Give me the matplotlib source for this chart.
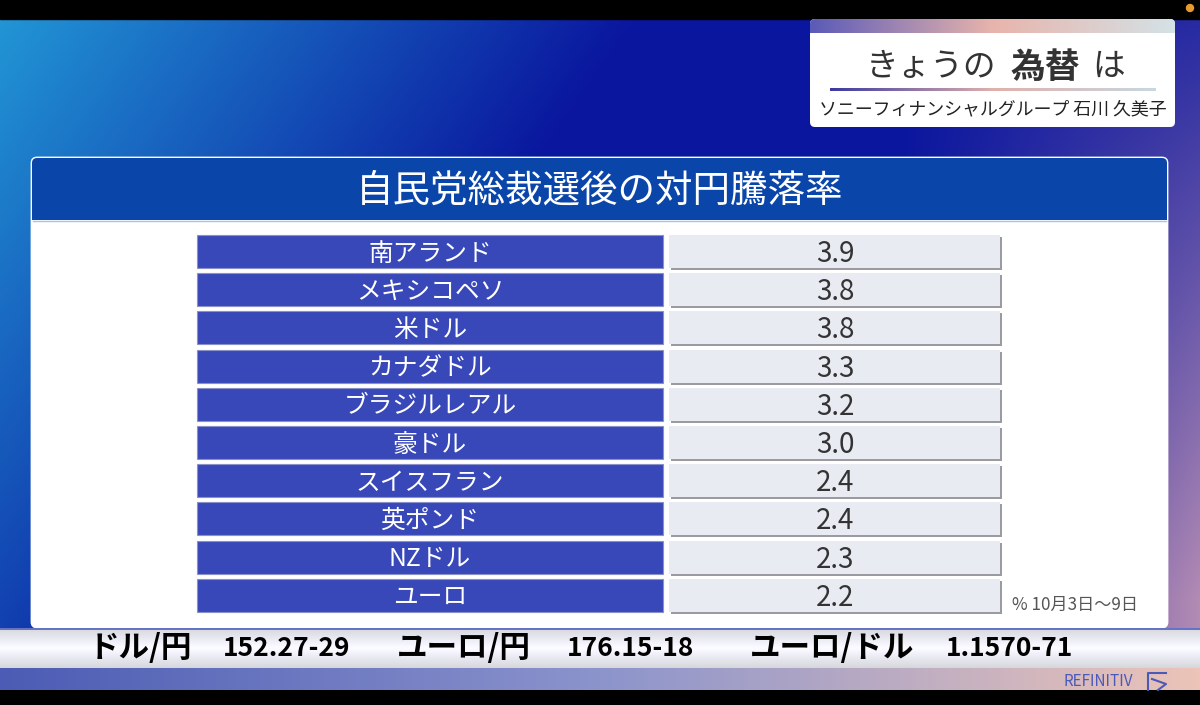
import numpy as np
import matplotlib.pyplot as plt
from matplotlib.patches import Rectangle, FancyBboxPatch, Circle

plt.rcParams['font.family'] = ['Noto Sans CJK JP', 'DejaVu Sans']

# data
currencies = ['南アランド', 'メキシコペソ', '米ドル', 'カナダドル', 'ブラジルレアル',
              '豪ドル', 'スイスフラン', '英ポンド', 'NZドル', 'ユーロ']
change_pct = [3.9, 3.8, 3.8, 3.3, 3.2, 3.0, 2.4, 2.4, 2.3, 2.2]
ticker_pairs = ['ドル/円', 'ユーロ/円', 'ユーロ/ドル']
ticker_quotes = ['152.27-29', '176.15-18', '1.1570-71']

title = '自民党総裁選後の対円騰落率'
note = '% 10月3日～9日'

W, H = 1200, 705
fig = plt.figure(figsize=(12, 7.05), dpi=100)
ax = fig.add_axes([0, 0, 1, 1])
ax.set_xlim(0, W)
ax.set_ylim(H, 0)
ax.axis('off')


def hexrgb(h):
    h = h.lstrip('#')
    return np.array([int(h[i:i + 2], 16) / 255 for i in (0, 2, 4)])


# background gradient
yy, xx = np.mgrid[0:H, 0:W]
s = np.clip((xx + 0.7 * yy) / 650.0, 0, 1)[..., None]
bg = (1 - s) * hexrgb('#2298d6') + s * hexrgb('#0a169e')
w = (np.clip((xx - 900) / 300.0, 0, 1) * np.clip((yy + 100) / 700.0, 0, 1))[..., None]
bg = (1 - w) * bg + w * hexrgb('#b48cb4')
ax.imshow(bg, extent=(0, W, H, 0), aspect='auto', zorder=0)

# black bars top / bottom
ax.add_patch(Rectangle((0, 0), W, 19, color='black', zorder=1))
ax.add_patch(Rectangle((0, 690), W, 15, color='black', zorder=1))
ax.add_patch(Circle((1190, 8), 3.5, color='#e89a30', zorder=2))

# title box top right
box = FancyBboxPatch((810, 19), 365, 108, boxstyle='round,pad=0,rounding_size=5',
                     fc='white', ec='none', zorder=2)
ax.add_patch(box)
t = np.linspace(0, 1, 300)
strip_cols = [hexrgb('#5a5ab8'), hexrgb('#e8b4ac'), hexrgb('#d4e2e6')]


def three_grad(t, cols):
    out = np.empty((len(t), 3))
    for k, v in enumerate(t):
        if v < 0.5:
            out[k] = (1 - v * 2) * cols[0] + v * 2 * cols[1]
        else:
            out[k] = (2 - v * 2) * cols[1] + (v * 2 - 1) * cols[2]
    return out


strip = three_grad(t, strip_cols)[None, :, :]
im = ax.imshow(strip, extent=(810, 1175, 33, 19), aspect='auto', zorder=3)
im.set_clip_path(box)
line_cols = [hexrgb('#3a3aa0'), hexrgb('#e0b0ac'), hexrgb('#c8d8e0')]
ax.imshow(three_grad(t, line_cols)[None, :, :], extent=(830, 1156, 91.5, 88.5),
          aspect='auto', zorder=3)
ax.text(931, 67, 'きょうの', fontsize=23.5, color='#333333', ha='center', va='center', zorder=4)
ax.text(1045, 67, '為替', fontsize=25, color='#333333', fontweight='bold',
        ha='center', va='center', zorder=4)
ax.text(1109, 67, 'は', fontsize=23.5, color='#333333', ha='center', va='center', zorder=4)
ax.text(993, 109, 'ソニーフィナンシャルグループ 石川 久美子', fontsize=12.9,
        color='#222222', ha='center', va='center', zorder=4)

# main panel
panel = FancyBboxPatch((32, 158), 1135, 469, boxstyle='round,pad=0,rounding_size=5',
                       fc='white', ec='white', lw=2, zorder=2)
ax.add_patch(panel)
hdr = Rectangle((32, 158), 1135, 62, fc='#0a46aa', ec='none', zorder=3)
ax.add_patch(hdr)
hdr.set_clip_path(panel)
ax.plot([33, 1166], [220.5, 220.5], color='#a8c4ec', lw=1, zorder=3)
ax.text(600, 191, title, fontsize=27, color='white', ha='center', va='center', zorder=4)

# rows
y0, pitch, rh = 235, 38.2, 33
for i, (name, val) in enumerate(zip(currencies, change_pct)):
    y = y0 + i * pitch
    ax.add_patch(Rectangle((197, y), 466, rh, fc='#3848b8', ec='#8a90c8', lw=0.8, zorder=3))
    ax.add_patch(Rectangle((671, y + 2), 331, rh, fc='#9a9aa0', ec='none', zorder=3))
    ax.add_patch(Rectangle((669, y), 331, rh, fc='#e9ebf3', ec='none', zorder=4))
    ax.text(430, y + rh / 2 + 2, name, fontsize=17.8, color='white',
            ha='center', va='center', zorder=5)
    ax.text(835, y + rh / 2 + 2.5, f'{val:.1f}', fontsize=20, color='#333333',
            ha='center', va='center', zorder=5)

ax.text(1012, 605, note, fontsize=12.3, color='#555555', ha='left', va='center', zorder=4)

# bottom ticker
tick_bg = np.linspace(0, 1, 40)[:, None, None]
tb = (1 - np.abs(tick_bg - 0.5) * 2)
tick_img = (0.84 + 0.15 * tb) * np.ones((40, 2, 3))
tick_img[..., 2] = np.minimum(tick_img[..., 2] + 0.03, 1)
ax.imshow(tick_img, extent=(0, W, 668, 628), aspect='auto', zorder=2)
ax.plot([0, W], [628.5, 628.5], color='#5060c0', lw=1.2, zorder=3)
low = three_grad(t, [hexrgb('#4c5cb4'), hexrgb('#8c94cc'), hexrgb('#ecc4b8')])[None, :, :]
ax.imshow(low, extent=(0, W, 690, 668), aspect='auto', zorder=2)

pair_x = [140, 464, 832]
quote_x = [287, 631, 1010]
for p, q, px, qx in zip(ticker_pairs, ticker_quotes, pair_x, quote_x):
    ax.text(px, 648, p, fontsize=22, fontweight='bold', color='black',
            ha='center', va='center', zorder=4)
    ax.text(qx, 648, q, fontsize=19, fontweight='bold', color='black',
            ha='center', va='center', zorder=4)

ax.text(1098, 681, 'REFINITIV', fontsize=11, color='#4a5ab8', ha='center',
        va='center', zorder=4)
ax.plot([1166, 1148, 1148], [673, 673, 690], color='#4a5ab8', lw=1.5, zorder=4)
ax.plot([1152, 1166, 1158], [679, 684, 690], color='#4a5ab8', lw=1.5, zorder=4)

fig.savefig('out.png', dpi=100)
